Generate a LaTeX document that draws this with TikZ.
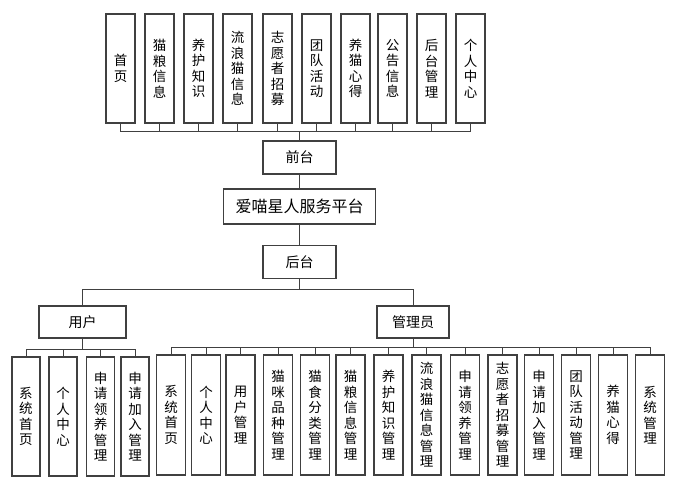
\documentclass[tikz,border=0pt]{standalone}
\usepackage{fontspec}
\setmainfont{Noto Sans CJK SC}

\begin{document}
\begin{tikzpicture}[x=1pt,y=-1pt,
    box/.style={draw=black!75,line width=1.1pt,fill=white,inner sep=0pt,align=center},
    vbox/.style={box,minimum width=29pt,minimum height=109pt,font=\fontsize{13.5}{15.5}\selectfont},
    hbox/.style={box,minimum width=73pt,minimum height=33pt,font=\fontsize{14}{16}\selectfont},
    link/.style={draw=black!75,line width=0.9pt}]
    \useasboundingbox (0,0) rectangle (675,487);

    % front end and its pages
    \foreach \x/\t [count=\i] in {120.5/{首\\页},159.5/{猫\\粮\\信\\息},198.5/{养\\护\\知\\识},237.5/{流\\浪\\猫\\信\\息},277.5/{志\\愿\\者\\招\\募},316.5/{团\\队\\活\\动},355.5/{养\\猫\\心\\得},392.5/{公\\告\\信\\息},431.5/{后\\台\\管\\理},470.5/{个\\人\\中\\心}}
        \node[vbox] (f\i) at (\x,68.5) {\t};

    \node[hbox] (qt) at (299.5,157.5) {前台};
    \node[hbox,minimum width=152pt,minimum height=35pt,font=\fontsize{16}{18}\selectfont] (pt) at (299.5,206.5) {爱喵星人服务平台};
    \node[hbox] (ht) at (299.5,262) {后台};
    \node[hbox,minimum width=87pt,minimum height=32pt] (yh) at (82.5,322) {用户};
    \node[hbox,minimum width=72pt,minimum height=32pt] (gly) at (413,322) {管理员};

    % user pages
    \foreach \x/\t [count=\i] in {26/{系\\统\\首\\页},63/{个\\人\\中\\心},100.5/{申\\请\\领\\养\\管\\理},135/{申\\请\\加\\入\\管\\理}}
        \node[vbox,minimum width=28pt,minimum height=119pt] (u\i) at (\x,416.5) {\t};

    % admin pages
    \foreach \x/\t [count=\i] in {171/{系\\统\\首\\页},206/{个\\人\\中\\心},240.5/{用\\户\\管\\理},278/{猫\\咪\\品\\种\\管\\理},315/{猫\\食\\分\\类\\管\\理},350.5/{猫\\粮\\信\\息\\管\\理},388.5/{养\\护\\知\\识\\管\\理},426.5/{流\\浪\\猫\\信\\息\\管\\理},465/{申\\请\\领\\养\\管\\理},502.5/{志\\愿\\者\\招\\募\\管\\理},539/{申\\请\\加\\入\\管\\理},576/{团\\队\\活\\动\\管\\理},613/{养\\猫\\心\\得},650/{系\\统\\管\\理}}
        \node[vbox,minimum height=120pt] (a\i) at (\x,415) {\t};

    \coordinate (fb) at (299.5,131);
    \coordinate (hb) at (299.5,289);
    \coordinate (ub) at (82.5,349);
    \coordinate (ab) at (413,347);

    \foreach \i in {1,...,10}
        \draw[link] (f\i.south) |- (fb);
    \draw[link] (fb) -- (qt.north);
    \draw[link] (qt.south) -- (pt.north);
    \draw[link] (pt.south) -- (ht.north);
    \draw[link] (ht.south) -- (hb);
    \draw[link] (hb) -| (yh.north);
    \draw[link] (hb) -| (gly.north);
    \draw[link] (yh.south) -- (ub);
    \foreach \i in {1,...,4}
        \draw[link] (u\i.north) |- (ub);
    \draw[link] (gly.south) -- (ab);
    \foreach \i in {1,...,14}
        \draw[link] (a\i.north) |- (ab);
\end{tikzpicture}
\end{document}
